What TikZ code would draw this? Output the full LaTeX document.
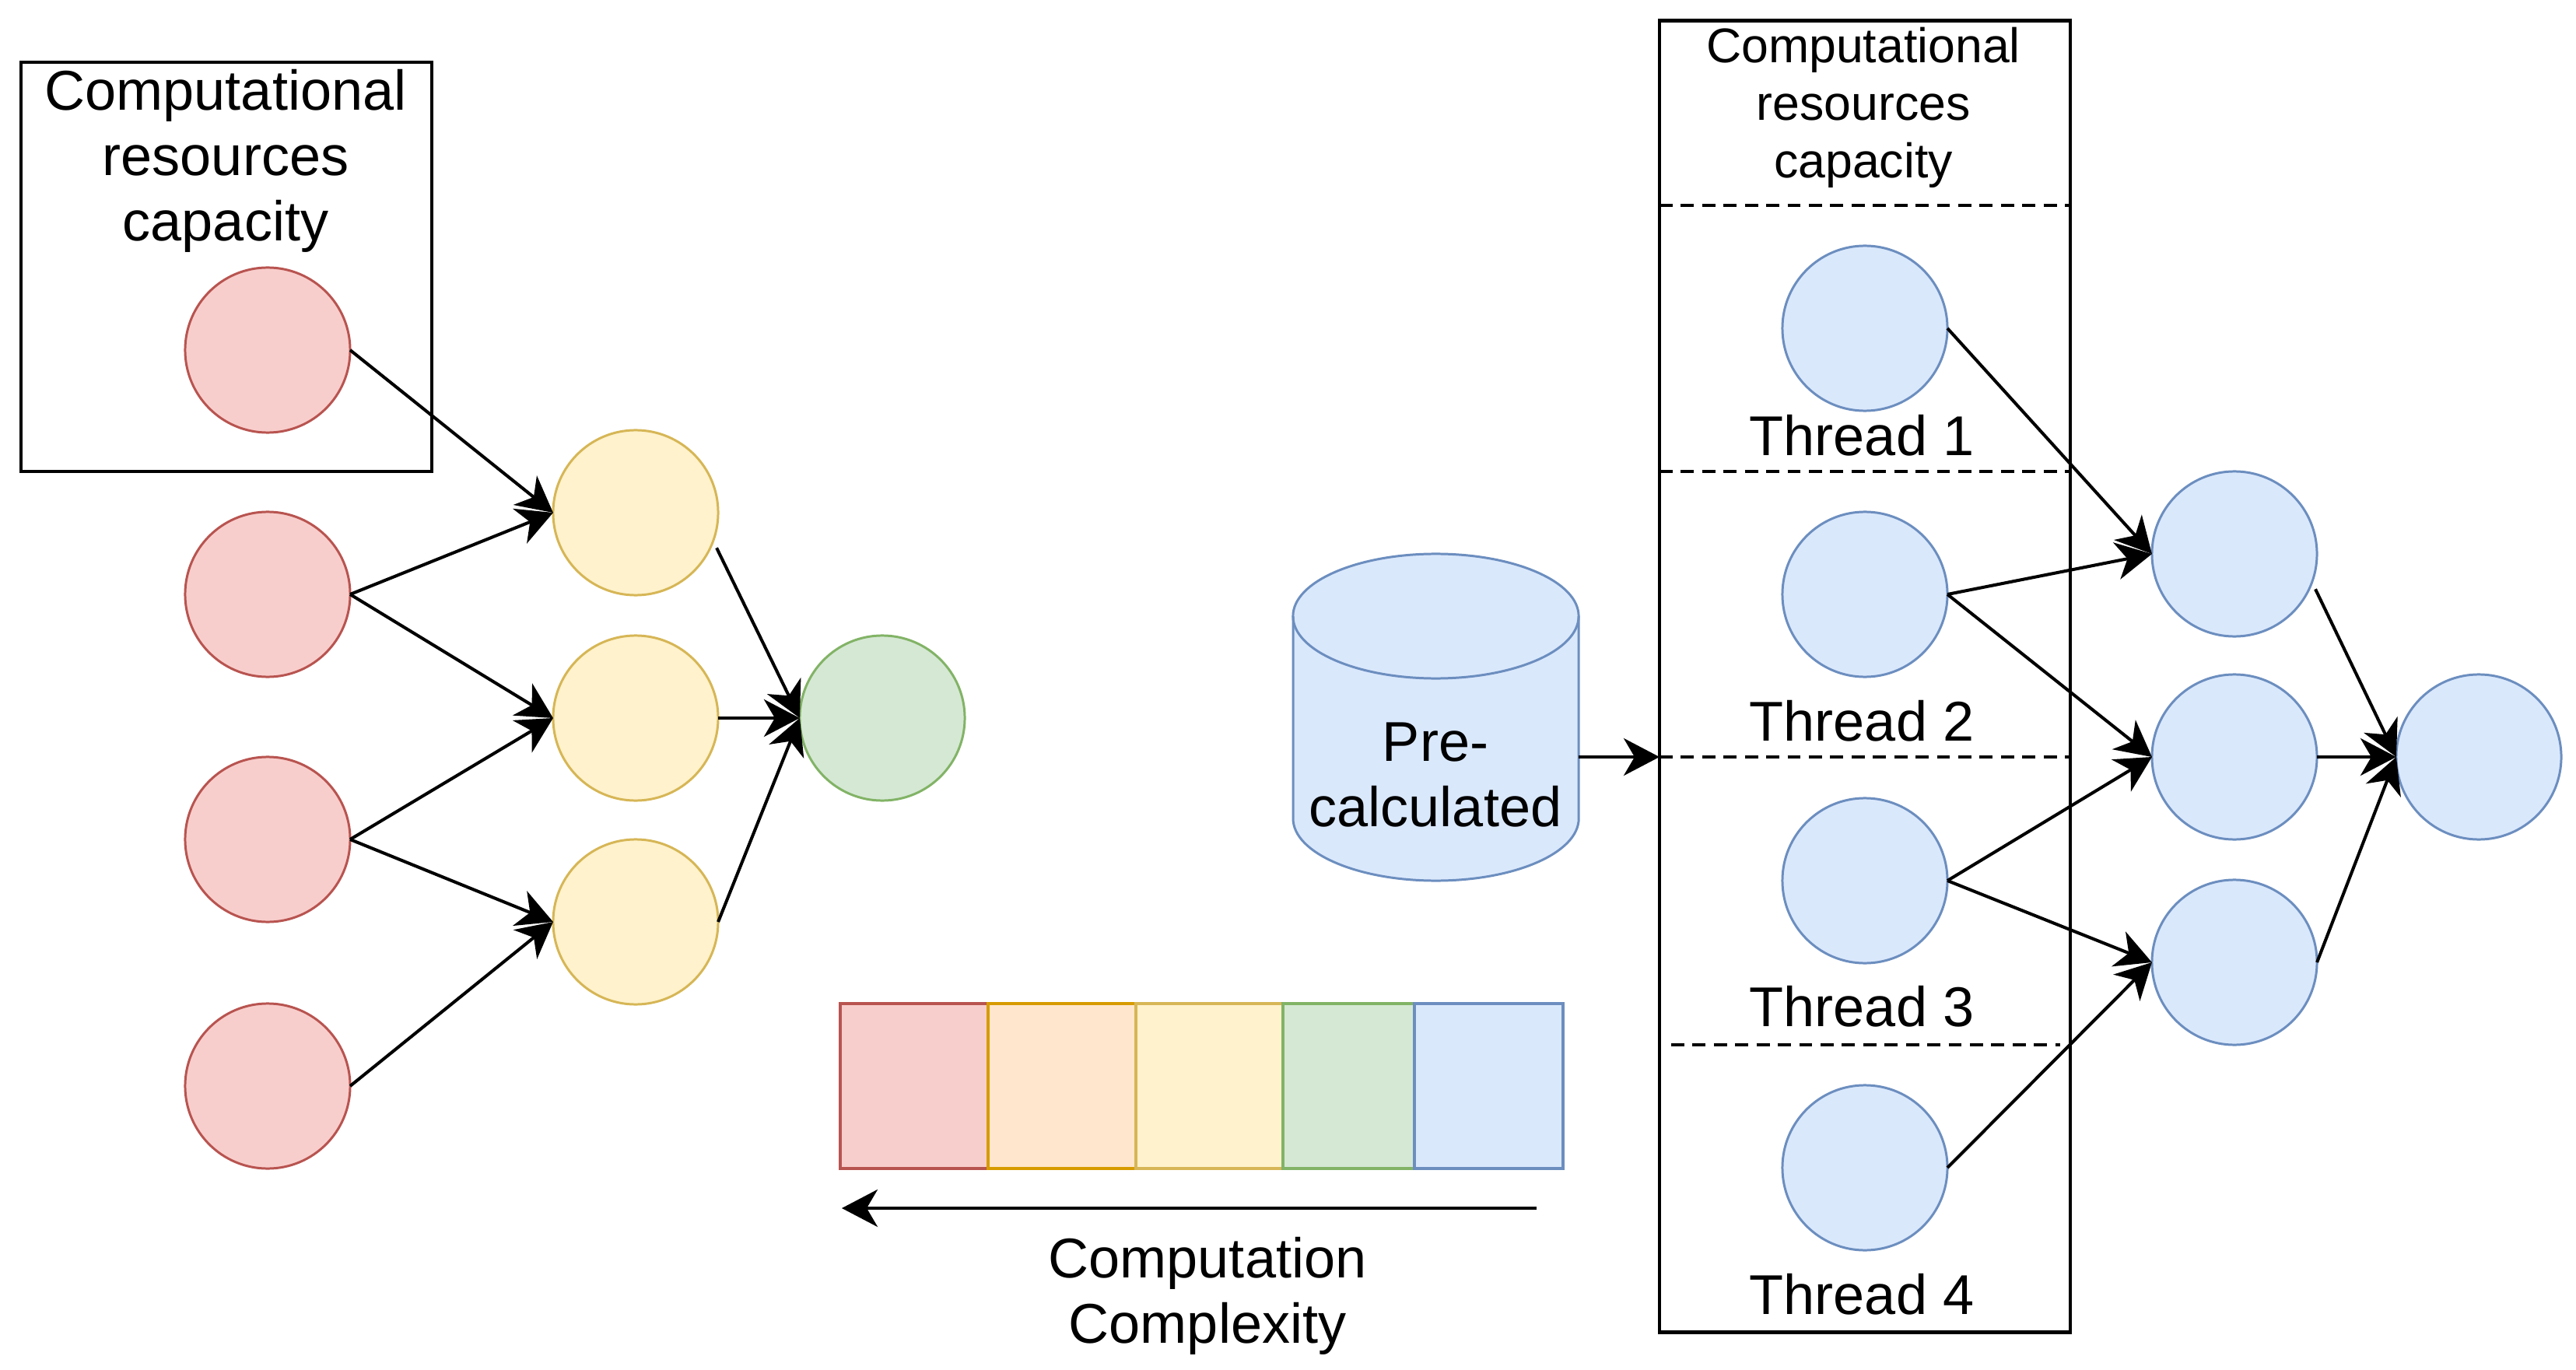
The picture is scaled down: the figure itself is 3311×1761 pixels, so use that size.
\documentclass[tikz,border=0pt]{standalone}
\usepackage{fontspec}
\setmainfont{Liberation Sans}
\usetikzlibrary{arrows.meta}
\definecolor{redF}{HTML}{F8CECC}\definecolor{redD}{HTML}{B85450}
\definecolor{yelF}{HTML}{FFF2CC}\definecolor{yelD}{HTML}{D6B656}
\definecolor{grnF}{HTML}{D5E8D4}\definecolor{grnD}{HTML}{82B366}
\definecolor{bluF}{HTML}{DAE8FC}\definecolor{bluD}{HTML}{6C8EBF}
\definecolor{orgF}{HTML}{FFE6CC}\definecolor{orgD}{HTML}{D79B00}
\begin{document}
\begin{tikzpicture}[x=0.01cm,y=-0.01cm,
  nd/.style={circle, minimum size=2.12cm, inner sep=0pt, outer sep=0pt, line width=0.85pt},
  rednd/.style={nd, fill=redF, draw=redD},
  yelnd/.style={nd, fill=yelF, draw=yelD},
  grnnd/.style={nd, fill=grnF, draw=grnD},
  blund/.style={nd, fill=bluF, draw=bluD},
  conn/.style={line width=1.15pt, -{Stealth[length=0.46cm,width=0.48cm,inset=0.14cm]}},
  boxst/.style={draw, line width=1.2pt, inner sep=0pt, outer sep=0pt},
  dashln/.style={line width=1pt, dash pattern=on 4.8pt off 3pt},
  bigtxt/.style={font=\fontsize{20.5}{23.8}\selectfont, align=center, inner sep=0pt},
  smalltxt/.style={font=\fontsize{17.8}{21}\selectfont, align=center, inner sep=0pt},
  barst/.style={line width=1pt}
]
\useasboundingbox (0,0) rectangle (3311,1761);

% ---------- left network ----------
\node[boxst, minimum width=5.28cm, minimum height=5.26cm] (lbox) at (291,343) {};
\node[bigtxt] (ltxt) at (290,207) {Computational\\resources\\capacity};

\node[rednd] (r1) at (344,450) {};
\node[rednd] (r2) at (344,764) {};
\node[rednd] (r3) at (344,1079) {};
\node[rednd] (r4) at (344,1396) {};
\node[yelnd] (y1) at (817,659) {};
\node[yelnd] (y2) at (817,923) {};
\node[yelnd] (y3) at (817,1185) {};
\node[grnnd] (g1) at (1134,923) {};

\draw[conn] (r1.east) -- (y1.west);
\draw[conn] (r2.east) -- (y1.west);
\draw[conn] (r2.east) -- (y2.west);
\draw[conn] (r3.east) -- (y2.west);
\draw[conn] (r3.east) -- (y3.west);
\draw[conn] (r4.east) -- (y3.west);
\draw[conn, shorten <=0.1cm] (y1.-20) -- (g1.west);
\draw[conn] (y2.east) -- (g1.west);
\draw[conn] (y3.east) -- (g1.west);

% ---------- complexity bar ----------
\draw[barst, fill=redF, draw=redD] (1080,1290) rectangle (1270,1502);
\draw[barst, fill=orgF, draw=orgD] (1270,1290) rectangle (1460,1502);
\draw[barst, fill=yelF, draw=yelD] (1460,1290) rectangle (1649,1502);
\draw[barst, fill=grnF, draw=grnD] (1649,1290) rectangle (1818,1502);
\draw[barst, fill=bluF, draw=bluD] (1818,1290) rectangle (2009,1502);
\coordinate (cs) at (1975,1553);
\coordinate (ce) at (1082,1553);
\draw[conn] (cs) -- (ce);
\node[bigtxt] (ctxt) at (1552,1666) {Computation\\Complexity};

% ---------- cylinder ----------
\node[inner sep=0pt, minimum width=3.67cm, minimum height=4.2cm] (cyl) at (1845.5,922) {};
\fill[bluF] (1662,792) -- (1662,1052) arc[start angle=180, end angle=360, x radius=1.835cm, y radius=0.8cm] -- (2029,792) arc[start angle=0, end angle=180, x radius=1.835cm, y radius=0.8cm] -- cycle;
\draw[bluD, line width=0.85pt] (1662,792) -- (1662,1052) arc[start angle=180, end angle=360, x radius=1.835cm, y radius=0.8cm] -- (2029,792);
\draw[bluD, line width=0.85pt] (1845.5,792) ellipse[x radius=1.835cm, y radius=0.8cm];
\node[bigtxt] (ptxt) at (1845,996) {Pre-\\calculated};
\coordinate (cylout) at (2029,973);
\coordinate (boxin) at (2133,973);
\draw[conn] (cylout) -- (boxin);

% ---------- right box ----------
\draw[dashln] (2133,264) -- (2661,264);
\draw[dashln] (2133,606) -- (2661,606);
\draw[dashln] (2133,973) -- (2661,973);
\draw[dashln] (2148,1343) -- (2648,1343);
\node[boxst, minimum width=5.28cm, minimum height=16.85cm] (rbox) at (2397,869.5) {};
\node[smalltxt] (rtxt) at (2395,138) {Computational\\resources\\capacity};

\node[blund] (t1) at (2397,422) {};
\node[blund] (t2) at (2397,764) {};
\node[blund] (t3) at (2397,1132) {};
\node[blund] (t4) at (2397,1501) {};
\node[bigtxt] (l1) at (2393,560) {Thread 1};
\node[bigtxt] (l2) at (2393,927) {Thread 2};
\node[bigtxt] (l3) at (2393,1294) {Thread 3};
\node[bigtxt] (l4) at (2393,1664) {Thread 4};

\node[blund] (m1) at (2872,712) {};
\node[blund] (m2) at (2872,973) {};
\node[blund] (m3) at (2872,1237) {};
\node[blund] (f1) at (3186,973) {};

\draw[conn] (t1.east) -- (m1.west);
\draw[conn] (t2.east) -- (m1.west);
\draw[conn] (t2.east) -- (m2.west);
\draw[conn] (t3.east) -- (m2.west);
\draw[conn] (t3.east) -- (m3.west);
\draw[conn] (t4.east) -- (m3.west);
\draw[conn, shorten <=0.1cm] (m1.-20) -- (f1.west);
\draw[conn] (m2.east) -- (f1.west);
\draw[conn] (m3.east) -- (f1.west);
\end{tikzpicture}
\end{document}
